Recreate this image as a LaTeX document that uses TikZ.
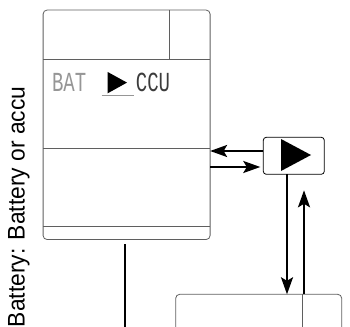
\documentclass[tikz,border=0pt]{standalone}
\usepackage{fontspec}
\setmainfont{Liberation Sans}
\newfontfamily\lcdfont{Liberation Mono}
\usetikzlibrary{arrows.meta,positioning,calc}
\definecolor{framegrey}{RGB}{95,95,95}
\definecolor{lcdgrey}{RGB}{150,150,150}
\definecolor{lcddark}{RGB}{60,60,60}

\begin{document}
\begin{tikzpicture}[x=1pt,y=-1pt,
  panel/.style={draw=framegrey,line width=0.8pt,rounded corners=4pt,inner sep=0pt,outer sep=0pt},
  lcd/.style={font=\lcdfont\fontsize{19}{19}\selectfont,inner sep=0pt},
  flow/.style={line width=2.2pt,-{Stealth[length=17pt,width=12pt,inset=3.5pt]}}]
  \clip (0,0) rectangle (350,326);
  % battery panel
  \node[panel,minimum width=167pt,minimum height=229.5pt] (bat) at (126.6,124.8) {};
  \foreach \d in {49.3,138,216.7}
    \draw[framegrey,line width=0.8pt] ([yshift=-\d pt]bat.north west) -- ([yshift=-\d pt]bat.north east);
  \draw[framegrey,line width=0.8pt] ([xshift=-40.7pt]bat.north east) -- ++(0,49.3);
  \node[lcd,text=lcdgrey] (bat-txt) at (69.2,82.5) {\scalebox{1}[1.45]{BAT}};
  \node[lcd,text=lcddark] (ccu-txt) at (153,82.5) {\scalebox{1}[1.45]{CCU}};
  \fill (107.7,72) -- (107.7,93.3) -- (127,82.6) -- cycle;
  \draw[lcdgrey,line width=0.6pt] (101.7,95) -- (134,95);
  % converter
  \node[draw,rounded corners=3pt,line width=0.8pt,inner sep=0pt,outer sep=0pt,
        minimum width=61pt,minimum height=37pt] (conv) at (293.8,155.8) {};
  \fill ($(conv.center)+(-12.8,-16.8)$) -- ($(conv.center)+(-12.8,15.2)$) -- ($(conv.center)+(17.2,-0.8)$) -- cycle;
  % ccu panel
  \node[panel,minimum width=166pt,minimum height=80pt,anchor=north west] (ccu) at (175.7,294.3) {};
  \draw[framegrey,line width=0.8pt] ([xshift=-39.7pt]ccu.north east) -- ++(0,40);
  % links
  \coordinate (l1) at ([yshift=4.8pt]conv.west);
  \coordinate (r1) at ([yshift=-11.2pt]conv.west);
  \coordinate (d1) at ([xshift=-6.8pt]conv.south);
  \coordinate (u1) at ([xshift=10.2pt]conv.south);
  \draw[flow] (l1) -- (l1 -| bat.east);
  \draw[flow] (r1 -| bat.east) -- ([xshift=-3pt]r1);
  \draw[flow] (d1) -- (d1 |- ccu.north);
  \draw[flow] (u1 |- ccu.north) -- ([yshift=-16pt]u1);
  \draw[line width=2.2pt] ([shift={(-1.5pt,-4.5pt)}]bat.south) -- ++(0,90);
  \node[rotate=90,anchor=base,font=\fontsize{24}{26}\selectfont] (lbl) at (24.5,207) {\scalebox{0.95}[1]{Battery: Battery or accu}};
\end{tikzpicture}
\end{document}
